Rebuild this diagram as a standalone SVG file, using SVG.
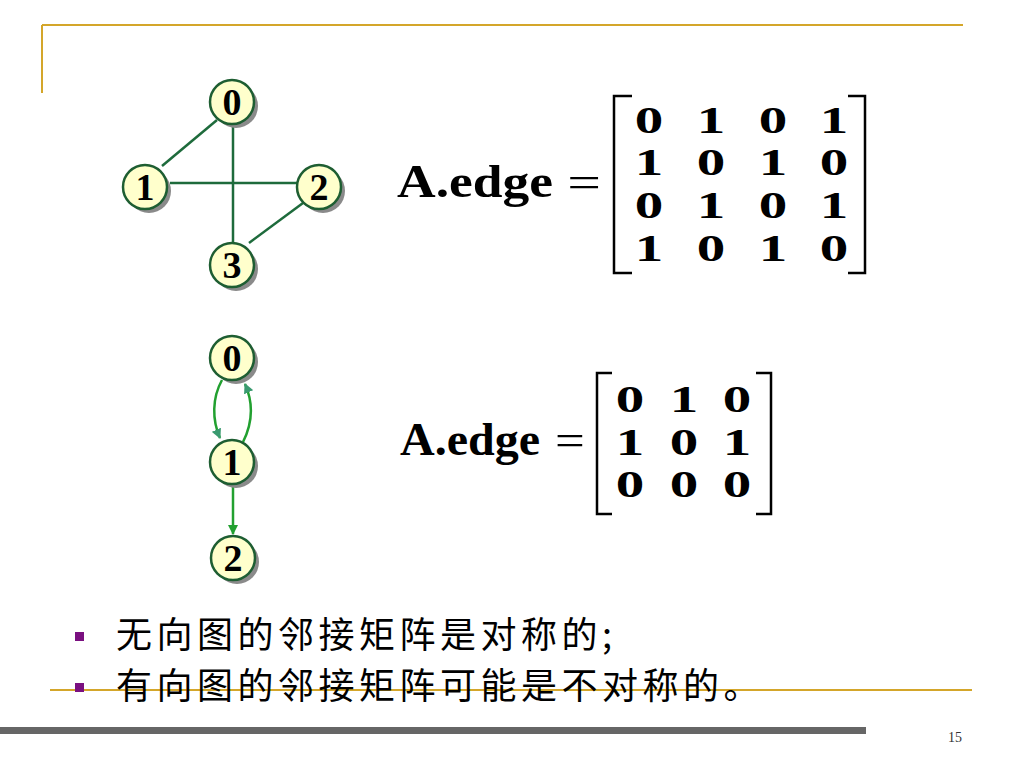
<svg xmlns="http://www.w3.org/2000/svg" width="1024" height="768" viewBox="0 0 1024 768">
<defs>
<style>
.node-c{fill:#FFFFCC;stroke:#1E5E32;stroke-width:2.5}
.shadow{fill:#8a8a8a}
.nlabel{font-family:"Liberation Serif","Times New Roman",serif;font-weight:bold;font-size:38px;fill:#000;text-anchor:middle}
.e1{stroke:#1E6B3C;stroke-width:2.5;fill:none}
.e2{stroke:#22A030;stroke-width:2.5;fill:none}
.mt{font-family:"Liberation Serif","Times New Roman",serif;font-weight:bold;fill:#000}
.eq{font-family:"Liberation Serif","Times New Roman",serif;font-weight:normal;fill:#000;text-anchor:middle}
.dig{font-family:"Liberation Serif","Times New Roman",serif;font-weight:bold;font-size:38px;fill:#000;text-anchor:middle}
.br{stroke:#000;stroke-width:2.5;fill:none}
.gold{stroke:#D4A62A;stroke-width:2;fill:none}
.cn{font-family:"Noto Sans CJK SC","Noto Sans",sans-serif;font-size:36px;letter-spacing:4.5px;fill:#000}
</style>
<marker id="arr" viewBox="0 0 10 10" refX="9" refY="5" markerWidth="4" markerHeight="4" orient="auto" markerUnits="strokeWidth">
<path d="M0,0 L10,5 L0,10 z" fill="#3A9A70"/>
</marker>
<marker id="arr2" viewBox="0 0 10 10" refX="9" refY="5" markerWidth="4" markerHeight="4" orient="auto" markerUnits="strokeWidth">
<path d="M0,0 L10,5 L0,10 z" fill="#22A030"/>
</marker>
</defs>
<rect width="1024" height="768" fill="#fff"/>
<!-- frame lines -->
<line class="gold" x1="42" y1="25" x2="963" y2="25"/>
<line class="gold" x1="42" y1="25" x2="42" y2="93"/>
<line class="gold" x1="50" y1="690" x2="972" y2="690"/>
<rect x="0" y="727" width="866" height="7" fill="#666"/>
<text x="955" y="742" font-family="Liberation Serif,serif" font-size="14" fill="#333" text-anchor="middle">15</text>

<!-- connectors -->
<g id="connectors">
<line class="e1" x1="217" y1="120" x2="162" y2="166"/>
<line class="e1" x1="170" y1="183" x2="297" y2="183"/>
<line class="e1" x1="233" y1="126" x2="233" y2="242"/>
<line class="e1" x1="303" y1="203" x2="249" y2="243"/>
<path class="e2" d="M222,380 C212,398 212,420 220,438" marker-end="url(#arr)"/>
<path class="e2" d="M243,442 C253,422 253,402 245,384" marker-end="url(#arr)"/>
<line class="e2" x1="233" y1="486" x2="233" y2="534" marker-end="url(#arr2)"/>
</g>

<!-- graph 1 nodes -->
<g id="g1-n0"><circle class="shadow" cx="236" cy="106" r="22"/><circle class="node-c" cx="232" cy="102" r="22"/><text class="nlabel" x="232" y="115">0</text></g>
<g id="g1-n1"><circle class="shadow" cx="149" cy="191" r="22"/><circle class="node-c" cx="145" cy="187" r="22"/><text class="nlabel" x="145" y="200">1</text></g>
<g id="g1-n2"><circle class="shadow" cx="323" cy="191" r="22"/><circle class="node-c" cx="319" cy="187" r="22"/><text class="nlabel" x="319" y="200">2</text></g>
<g id="g1-n3"><circle class="shadow" cx="236" cy="269" r="22"/><circle class="node-c" cx="232" cy="265" r="22"/><text class="nlabel" x="232" y="278">3</text></g>

<!-- graph 2 nodes -->
<g id="g2-n0"><circle class="shadow" cx="236" cy="362" r="22"/><circle class="node-c" cx="232" cy="358" r="22"/><text class="nlabel" x="232" y="371">0</text></g>
<g id="g2-n1"><circle class="shadow" cx="236" cy="466" r="22"/><circle class="node-c" cx="232" cy="462" r="22"/><text class="nlabel" x="232" y="475">1</text></g>
<g id="g2-n2"><circle class="shadow" cx="237" cy="562" r="22"/><circle class="node-c" cx="233" cy="558" r="22"/><text class="nlabel" x="233" y="571">2</text></g>

<!-- matrix 1 -->
<g id="matrix1">
<text class="mt" x="397" y="197" font-size="46" textLength="156" lengthAdjust="spacingAndGlyphs">A.edge</text>
<text class="eq" transform="translate(584,198) scale(1.3,1)" font-size="46">=</text>
<path class="br" d="M632,96 L614,96 L614,273 L632,273"/>
<path class="br" d="M848,96 L865,96 L865,273 L848,273"/>
<g class="dig">
<text transform="translate(649,133) scale(1.5,1)">0</text>
<text transform="translate(711,133) scale(1.5,1)">1</text>
<text transform="translate(773,133) scale(1.5,1)">0</text>
<text transform="translate(834,133) scale(1.5,1)">1</text>
<text transform="translate(649,175) scale(1.5,1)">1</text>
<text transform="translate(711,175) scale(1.5,1)">0</text>
<text transform="translate(773,175) scale(1.5,1)">1</text>
<text transform="translate(834,175) scale(1.5,1)">0</text>
<text transform="translate(649,218) scale(1.5,1)">0</text>
<text transform="translate(711,218) scale(1.5,1)">1</text>
<text transform="translate(773,218) scale(1.5,1)">0</text>
<text transform="translate(834,218) scale(1.5,1)">1</text>
<text transform="translate(649,261) scale(1.5,1)">1</text>
<text transform="translate(711,261) scale(1.5,1)">0</text>
<text transform="translate(773,261) scale(1.5,1)">1</text>
<text transform="translate(834,261) scale(1.5,1)">0</text>
</g>
</g>

<!-- matrix 2 -->
<g id="matrix2">
<text class="mt" x="400" y="455" font-size="46" textLength="140" lengthAdjust="spacingAndGlyphs">A.edge</text>
<text class="eq" transform="translate(570,455) scale(1.2,1)" font-size="44">=</text>
<path class="br" d="M612,373 L597,373 L597,514 L612,514"/>
<path class="br" d="M756,373 L771,373 L771,514 L756,514"/>
<g class="dig">
<text transform="translate(630,412) scale(1.5,1)">0</text>
<text transform="translate(684,412) scale(1.5,1)">1</text>
<text transform="translate(737,412) scale(1.5,1)">0</text>
<text transform="translate(630,455) scale(1.5,1)">1</text>
<text transform="translate(684,455) scale(1.5,1)">0</text>
<text transform="translate(737,455) scale(1.5,1)">1</text>
<text transform="translate(630,497) scale(1.5,1)">0</text>
<text transform="translate(684,497) scale(1.5,1)">0</text>
<text transform="translate(737,497) scale(1.5,1)">0</text>
</g>
</g>

<!-- bullets -->
<g id="bullets">
<rect x="75" y="632" width="9" height="9" fill="#7A1080"/>
<text class="cn" x="116" y="648">无向图的邻接矩阵是对称的;</text>
<rect x="75" y="683" width="9" height="9" fill="#7A1080"/>
<text class="cn" x="116" y="699">有向图的邻接矩阵可能是不对称的。</text>
</g>
</svg>
